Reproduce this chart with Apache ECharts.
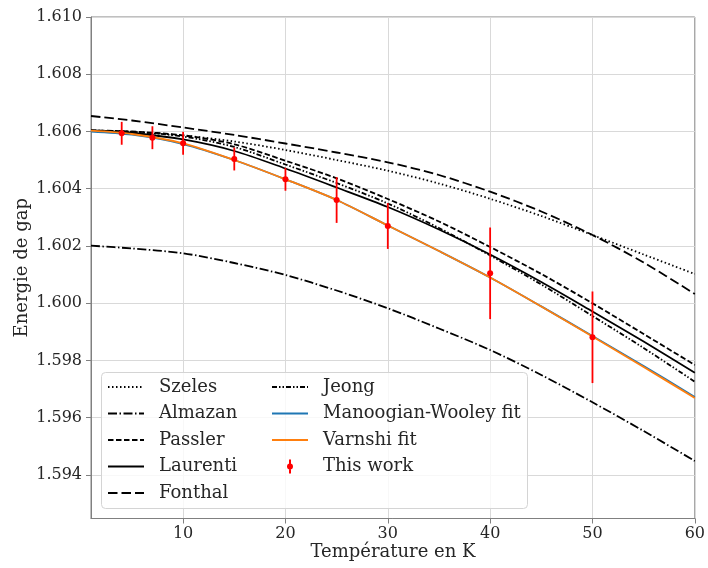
<!DOCTYPE html>
<html><head><meta charset="utf-8">
<script src="https://cdn.jsdelivr.net/npm/echarts@6/dist/echarts.min.js"></script>
<style>html,body{margin:0;padding:0;background:#fff}#c{width:708px;height:568px}</style>
</head><body><div id="c"></div>
<script>
// Temperature grid (K) at which the model curves were read
const temps = [1, 5, 10, 15, 20, 25, 30, 35, 40, 45, 50, 55, 60];
const szeles    = [1.606035, 1.605983, 1.605860, 1.605651, 1.605354, 1.605004, 1.604631, 1.604183, 1.603649, 1.603048, 1.602384, 1.601703, 1.601022];
const almazan   = [1.602010, 1.601913, 1.601745, 1.601406, 1.600987, 1.600445, 1.599824, 1.599118, 1.598367, 1.597494, 1.596540, 1.595537, 1.594489];
const passler   = [1.606035, 1.606000, 1.605867, 1.605553, 1.604980, 1.604365, 1.603642, 1.602856, 1.601965, 1.601022, 1.599998, 1.598926, 1.597843];
const laurenti  = [1.606035, 1.605948, 1.605721, 1.605319, 1.604707, 1.604044, 1.603362, 1.602576, 1.601703, 1.600742, 1.599712, 1.598664, 1.597574];
const fonthal   = [1.606541, 1.606384, 1.606140, 1.605878, 1.605581, 1.605266, 1.604924, 1.604480, 1.603897, 1.603205, 1.602384, 1.601424, 1.600323];
const jeong     = [1.606035, 1.605990, 1.605825, 1.605459, 1.604847, 1.604201, 1.603485, 1.602629, 1.601668, 1.600655, 1.599555, 1.598437, 1.597259];
const manoogian = [1.606000, 1.605888, 1.605563, 1.605004, 1.604330, 1.603607, 1.602716, 1.601825, 1.600900, 1.599890, 1.598856, 1.597808, 1.596725];
const varnshi   = [1.606028, 1.605913, 1.605588, 1.605004, 1.604330, 1.603607, 1.602716, 1.601825, 1.600900, 1.599886, 1.598838, 1.597773, 1.596690];
// Measured points (This work)
const measT   = [4, 7, 10, 15, 20, 25, 30, 40, 50];
const measE   = [1.605937, 1.605783, 1.605588, 1.605039, 1.604330, 1.603607, 1.602698, 1.601046, 1.598811];
const measErr = [0.0004, 0.0004, 0.0004, 0.0004, 0.0004, 0.0008, 0.0008, 0.0016, 0.0016];

const FONT = 'DejaVu Serif';
const TXT = '#262626';
const AX = '#808080';

function pairs(arr) { return temps.map((t, i) => [t, arr[i]]); }
function lineSeries(name, arr, color, type, z) {
  return {
    name: name, type: 'line', data: pairs(arr), smooth: 0.3, symbol: 'none',
    lineStyle: { color: color, width: 1.8, type: type }, itemStyle: { color: color },
    z: z || 2, clip: true
  };
}

const series = [
  lineSeries('Szeles', szeles, '#000', [1.5, 2.5]),
  lineSeries('Almazan', almazan, '#000', [9, 2.5, 1.5, 2.5]),
  lineSeries('Passler', passler, '#000', [5.5, 2.5]),
  lineSeries('Laurenti', laurenti, '#000', 'solid'),
  lineSeries('Fonthal', fonthal, '#000', [9.5, 4]),
  lineSeries('Jeong', jeong, '#000', [5, 2, 1.5, 2, 1.5, 2]),
  lineSeries('Manoogian-Wooley fit', manoogian, '#1f77b4', 'solid', 3),
  lineSeries('Varnshi fit', varnshi, '#ff7f0e', 'solid', 3),
  {
    name: 'This work', type: 'custom', z: 5,
    itemStyle: { color: '#ff0000' },
    data: measT.map((t, i) => [t, measE[i], measErr[i]]),
    encode: { x: 0, y: 1 },
    renderItem: function (params, api) {
      const x = api.value(0), y = api.value(1), e = api.value(2);
      const top = api.coord([x, y + e]), bot = api.coord([x, y - e]), c = api.coord([x, y]);
      return {
        type: 'group', children: [
          { type: 'line', shape: { x1: top[0], y1: top[1], x2: bot[0], y2: bot[1] }, style: { stroke: '#ff0000', lineWidth: 1.8 } },
          { type: 'circle', shape: { cx: c[0], cy: c[1], r: 3 }, style: { fill: '#ff0000' } }
        ]
      };
    }
  }
];

const legendCommon = {
  orient: 'vertical', itemWidth: 36, itemHeight: 14, itemGap: 6.5, padding: 0,
  selectedMode: false,
  itemStyle: { opacity: 0 },
  textStyle: { fontFamily: FONT, fontSize: 18, color: TXT, lineHeight: 20, padding: [0, 0, 0, 10] }
};
const errIcon = 'path://M0,7 L0.01,7 L0.01,7.01 Z M17,0 L19,0 L19,14 L17,14 Z M18,4 A3,3 0 1 1 18,10 A3,3 0 1 1 18,4 Z M35.99,7 L36,7 L36,7.01 Z';

const chart = echarts.init(document.getElementById('c'), null, { renderer: 'canvas' });
chart.setOption({
  animation: false,
  backgroundColor: '#ffffff',
  textStyle: { fontFamily: FONT },
  grid: { left: 91, right: 12, top: 17, bottom: 49.5, show: true, borderColor: AX, borderWidth: 1, backgroundColor: 'transparent' },
  xAxis: {
    type: 'value', min: 1, max: 60, splitNumber: 6,
    name: 'Température en K', nameLocation: 'middle', nameGap: 25, nameMoveOverlap: false,
    nameTextStyle: { fontFamily: FONT, fontSize: 18, color: TXT },
    axisLine: { show: true, lineStyle: { color: AX, width: 1 } },
    axisTick: { show: true, length: 5, lineStyle: { color: AX } },
    axisLabel: { showMinLabel: false, fontFamily: FONT, fontSize: 16, color: TXT, margin: 7 },
    splitLine: { show: true, lineStyle: { color: '#d9d9d9', width: 1 } }
  },
  yAxis: {
    type: 'value', min: 1.59248, max: 1.610, splitNumber: 9,
    name: 'Energie de gap', nameLocation: 'middle', nameGap: 60, nameMoveOverlap: false,
    nameTextStyle: { fontFamily: FONT, fontSize: 18, color: TXT },
    axisLine: { show: true, lineStyle: { color: AX, width: 1 } },
    axisTick: { show: true, length: 5, lineStyle: { color: AX } },
    axisLabel: { showMinLabel: false, fontFamily: FONT, fontSize: 16, color: TXT, margin: 9, formatter: v => v.toFixed(3) },
    splitLine: { show: true, lineStyle: { color: '#d9d9d9', width: 1 } }
  },
  legend: [
    Object.assign({}, legendCommon, { left: 107, top: 377, data: ['Szeles', 'Almazan', 'Passler', 'Laurenti', 'Fonthal'] }),
    Object.assign({}, legendCommon, { left: 271, top: 377, data: ['Jeong', 'Manoogian-Wooley fit', 'Varnshi fit', { name: 'This work', icon: errIcon, itemStyle: { opacity: 1, color: '#ff0000' } }] })
  ],
  graphic: [{
    type: 'rect', left: 101, top: 372, z: 3,
    shape: { width: 426, height: 136, r: 4 },
    style: { fill: 'rgba(255,255,255,0.8)', stroke: '#d4d4d4', lineWidth: 1 }
  }],
  series: series
});
</script>
</body></html>
